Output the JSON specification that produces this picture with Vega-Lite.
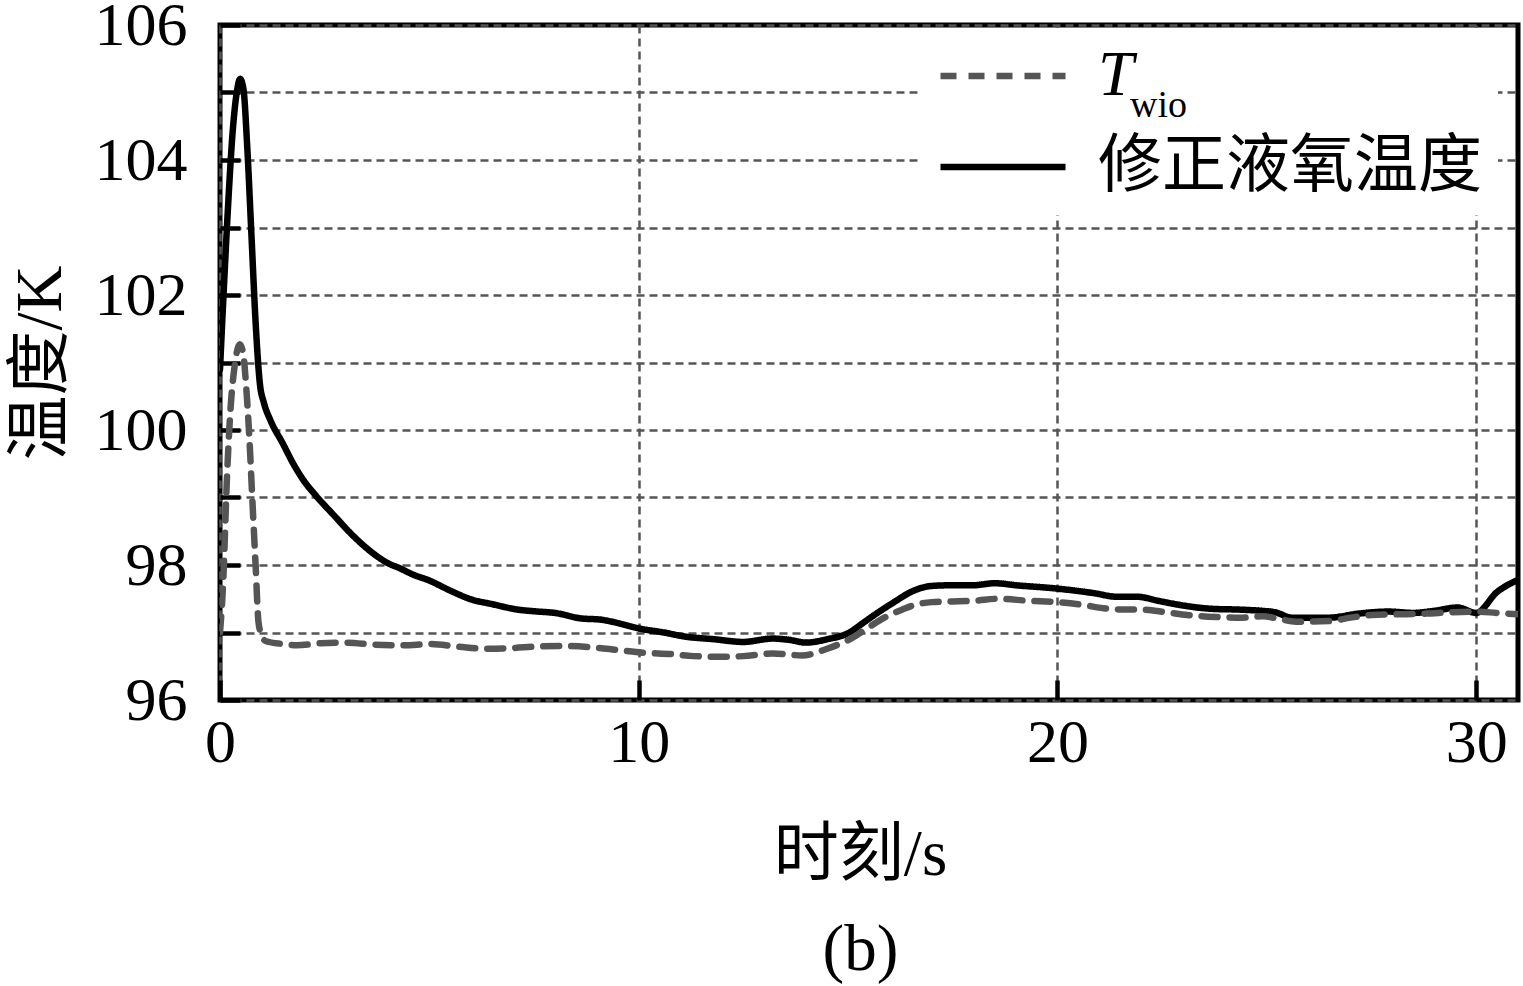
{
  "$schema": "https://vega.github.io/schema/vega-lite/v6.json",
  "autosize": "none",
  "width": 1298,
  "height": 675,
  "padding": {"left": 220, "top": 25, "right": 5, "bottom": 286},
  "background": "white",
  "title": {
    "text": "wio",
    "orient": "top",
    "anchor": "start",
    "frame": "group",
    "font": "Liberation Serif",
    "fontSize": 38,
    "fontWeight": "normal",
    "color": "black",
    "baseline": "alphabetic",
    "offset": 0,
    "dx": 910,
    "dy": 161
  },
  "data": {
    "values": [
      {"t": 0, "s": "修正液氧温度", "v": 100.9},
      {"t": 0.1, "s": "修正液氧温度", "v": 102.2},
      {"t": 0.2, "s": "修正液氧温度", "v": 103.4},
      {"t": 0.3, "s": "修正液氧温度", "v": 104.4},
      {"t": 0.4, "s": "修正液氧温度", "v": 105.0},
      {"t": 0.48, "s": "修正液氧温度", "v": 105.2},
      {"t": 0.56, "s": "修正液氧温度", "v": 105.05},
      {"t": 0.65, "s": "修正液氧温度", "v": 104.2},
      {"t": 0.75, "s": "修正液氧温度", "v": 102.9},
      {"t": 0.85, "s": "修正液氧温度", "v": 101.6},
      {"t": 0.95, "s": "修正液氧温度", "v": 100.7},
      {"t": 1.05, "s": "修正液氧温度", "v": 100.4},
      {"t": 1.2, "s": "修正液氧温度", "v": 100.15},
      {"t": 1.5, "s": "修正液氧温度", "v": 99.8},
      {"t": 1.75, "s": "修正液氧温度", "v": 99.5},
      {"t": 2.0, "s": "修正液氧温度", "v": 99.25},
      {"t": 2.3, "s": "修正液氧温度", "v": 99.02},
      {"t": 2.7, "s": "修正液氧温度", "v": 98.75},
      {"t": 3.2, "s": "修正液氧温度", "v": 98.42},
      {"t": 3.6, "s": "修正液氧温度", "v": 98.2},
      {"t": 4.0, "s": "修正液氧温度", "v": 98.03},
      {"t": 4.3, "s": "修正液氧温度", "v": 97.95},
      {"t": 4.6, "s": "修正液氧温度", "v": 97.86},
      {"t": 5.0, "s": "修正液氧温度", "v": 97.77},
      {"t": 5.5, "s": "修正液氧温度", "v": 97.62},
      {"t": 6.0, "s": "修正液氧温度", "v": 97.49},
      {"t": 6.5, "s": "修正液氧温度", "v": 97.42},
      {"t": 7.1, "s": "修正液氧温度", "v": 97.34},
      {"t": 7.6, "s": "修正液氧温度", "v": 97.31},
      {"t": 8.0, "s": "修正液氧温度", "v": 97.29},
      {"t": 8.6, "s": "修正液氧温度", "v": 97.21},
      {"t": 9.1, "s": "修正液氧温度", "v": 97.19},
      {"t": 9.5, "s": "修正液氧温度", "v": 97.14},
      {"t": 10.0, "s": "修正液氧温度", "v": 97.06},
      {"t": 10.6, "s": "修正液氧温度", "v": 97.0},
      {"t": 11.1, "s": "修正液氧温度", "v": 96.94},
      {"t": 11.8, "s": "修正液氧温度", "v": 96.9},
      {"t": 12.5, "s": "修正液氧温度", "v": 96.86},
      {"t": 13.2, "s": "修正液氧温度", "v": 96.91},
      {"t": 13.6, "s": "修正液氧温度", "v": 96.89},
      {"t": 14.0, "s": "修正液氧温度", "v": 96.85},
      {"t": 14.5, "s": "修正液氧温度", "v": 96.9},
      {"t": 15.0, "s": "修正液氧温度", "v": 96.99},
      {"t": 15.4, "s": "修正液氧温度", "v": 97.16},
      {"t": 15.7, "s": "修正液氧温度", "v": 97.29},
      {"t": 16.1, "s": "修正液氧温度", "v": 97.45},
      {"t": 16.5, "s": "修正液氧温度", "v": 97.6},
      {"t": 17.0, "s": "修正液氧温度", "v": 97.69},
      {"t": 17.5, "s": "修正液氧温度", "v": 97.7},
      {"t": 18.0, "s": "修正液氧温度", "v": 97.7},
      {"t": 18.5, "s": "修正液氧温度", "v": 97.73},
      {"t": 19.0, "s": "修正液氧温度", "v": 97.7},
      {"t": 20.0, "s": "修正液氧温度", "v": 97.65},
      {"t": 20.9, "s": "修正液氧温度", "v": 97.58},
      {"t": 21.4, "s": "修正液氧温度", "v": 97.53},
      {"t": 21.9, "s": "修正液氧温度", "v": 97.53},
      {"t": 22.4, "s": "修正液氧温度", "v": 97.47},
      {"t": 22.9, "s": "修正液氧温度", "v": 97.41},
      {"t": 23.7, "s": "修正液氧温度", "v": 97.35},
      {"t": 24.3, "s": "修正液氧温度", "v": 97.34},
      {"t": 24.9, "s": "修正液氧温度", "v": 97.32},
      {"t": 25.2, "s": "修正液氧温度", "v": 97.3},
      {"t": 25.6, "s": "修正液氧温度", "v": 97.22},
      {"t": 26.5, "s": "修正液氧温度", "v": 97.22},
      {"t": 27.2, "s": "修正液氧温度", "v": 97.28},
      {"t": 27.9, "s": "修正液氧温度", "v": 97.31},
      {"t": 28.5, "s": "修正液氧温度", "v": 97.29},
      {"t": 29.0, "s": "修正液氧温度", "v": 97.32},
      {"t": 29.56, "s": "修正液氧温度", "v": 97.37},
      {"t": 30.0, "s": "修正液氧温度", "v": 97.29},
      {"t": 30.5, "s": "修正液氧温度", "v": 97.6},
      {"t": 31.0, "s": "修正液氧温度", "v": 97.78},
      {"t": 0, "s": "Twio", "v": 97.0},
      {"t": 0.08, "s": "Twio", "v": 97.8},
      {"t": 0.16, "s": "Twio", "v": 99.2},
      {"t": 0.25, "s": "Twio", "v": 100.3},
      {"t": 0.35, "s": "Twio", "v": 100.95},
      {"t": 0.47, "s": "Twio", "v": 101.27},
      {"t": 0.55, "s": "Twio", "v": 101.15},
      {"t": 0.63, "s": "Twio", "v": 100.6},
      {"t": 0.7, "s": "Twio", "v": 99.9},
      {"t": 0.77, "s": "Twio", "v": 99.0},
      {"t": 0.85, "s": "Twio", "v": 98.0},
      {"t": 0.92, "s": "Twio", "v": 97.15},
      {"t": 1.0, "s": "Twio", "v": 96.95},
      {"t": 1.1, "s": "Twio", "v": 96.87},
      {"t": 1.5, "s": "Twio", "v": 96.83},
      {"t": 1.83, "s": "Twio", "v": 96.81},
      {"t": 2.4, "s": "Twio", "v": 96.84},
      {"t": 3.0, "s": "Twio", "v": 96.85},
      {"t": 3.7, "s": "Twio", "v": 96.82},
      {"t": 4.4, "s": "Twio", "v": 96.81},
      {"t": 5.0, "s": "Twio", "v": 96.83},
      {"t": 5.7, "s": "Twio", "v": 96.79},
      {"t": 6.3, "s": "Twio", "v": 96.76},
      {"t": 7.0, "s": "Twio", "v": 96.77},
      {"t": 7.5, "s": "Twio", "v": 96.79},
      {"t": 8.2, "s": "Twio", "v": 96.8},
      {"t": 8.9, "s": "Twio", "v": 96.78},
      {"t": 9.5, "s": "Twio", "v": 96.74},
      {"t": 10.1, "s": "Twio", "v": 96.7},
      {"t": 10.8, "s": "Twio", "v": 96.68},
      {"t": 11.3, "s": "Twio", "v": 96.65},
      {"t": 12.0, "s": "Twio", "v": 96.64},
      {"t": 12.5, "s": "Twio", "v": 96.65},
      {"t": 13.2, "s": "Twio", "v": 96.69},
      {"t": 13.9, "s": "Twio", "v": 96.66},
      {"t": 14.5, "s": "Twio", "v": 96.76},
      {"t": 15.1, "s": "Twio", "v": 96.92},
      {"t": 15.5, "s": "Twio", "v": 97.08},
      {"t": 15.9, "s": "Twio", "v": 97.23},
      {"t": 16.3, "s": "Twio", "v": 97.34},
      {"t": 16.6, "s": "Twio", "v": 97.41},
      {"t": 17.0, "s": "Twio", "v": 97.45},
      {"t": 17.5, "s": "Twio", "v": 97.46},
      {"t": 18.0, "s": "Twio", "v": 97.47},
      {"t": 18.6, "s": "Twio", "v": 97.5},
      {"t": 19.3, "s": "Twio", "v": 97.47},
      {"t": 20.0, "s": "Twio", "v": 97.45},
      {"t": 20.6, "s": "Twio", "v": 97.41},
      {"t": 21.1, "s": "Twio", "v": 97.36},
      {"t": 21.6, "s": "Twio", "v": 97.34},
      {"t": 22.0, "s": "Twio", "v": 97.34},
      {"t": 22.6, "s": "Twio", "v": 97.3},
      {"t": 23.1, "s": "Twio", "v": 97.26},
      {"t": 23.8, "s": "Twio", "v": 97.23},
      {"t": 24.4, "s": "Twio", "v": 97.22},
      {"t": 24.9, "s": "Twio", "v": 97.24},
      {"t": 25.3, "s": "Twio", "v": 97.2},
      {"t": 25.7, "s": "Twio", "v": 97.16},
      {"t": 26.5, "s": "Twio", "v": 97.17},
      {"t": 27.0, "s": "Twio", "v": 97.22},
      {"t": 27.5, "s": "Twio", "v": 97.26},
      {"t": 28.2, "s": "Twio", "v": 97.27},
      {"t": 28.8, "s": "Twio", "v": 97.28},
      {"t": 29.4, "s": "Twio", "v": 97.3},
      {"t": 30.0, "s": "Twio", "v": 97.31},
      {"t": 30.5, "s": "Twio", "v": 97.29},
      {"t": 31.0, "s": "Twio", "v": 97.27}
    ]
  },
  "mark": {"type": "line", "strokeWidth": 6.5, "strokeCap": "round", "interpolate": "monotone", "clip": true},
  "encoding": {
    "x": {
      "field": "t",
      "type": "quantitative",
      "scale": {"domain": [0, 31], "nice": false, "zero": false},
      "axis": {
        "values": [0, 10, 20, 30],
        "title": ["时刻/s", "(b)"],
        "titleLineHeight": 95,
        "titleBaseline": "top",
        "titleAlign": "center",
        "titleX": 640,
        "titlePadding": 50
      }
    },
    "y": {
      "field": "v",
      "type": "quantitative",
      "scale": {"domain": [96, 106], "nice": false, "zero": false},
      "axis": {
        "values": [96, 97, 98, 99, 100, 101, 102, 103, 104, 105, 106],
        "labelExpr": "datum.value % 2 == 0 ? datum.label : ''",
        "title": "温度/K",
        "titlePadding": 20
      }
    },
    "color": {
      "field": "s",
      "type": "nominal",
      "scale": {"domain": ["Twio", "修正液氧温度"], "range": ["#555555", "#000000"]},
      "legend": {
        "title": null,
        "orient": "none",
        "legendX": 701,
        "legendY": 3,
        "padding": 16,
        "fillColor": "white",
        "strokeColor": null,
        "symbolType": "stroke",
        "symbolSize": 15625,
        "symbolStrokeWidth": 6.5,
        "clipHeight": 64,
        "rowPadding": 27,
        "labelOffset": 29,
        "labelLimit": 600,
        "labelFont": "Liberation Serif, Noto Sans CJK SC",
        "labelColor": "black",
        "labelBaseline": "middle",
        "labelExpr": "datum.value == 'Twio' ? 'T' : datum.label",
        "labelFontStyle": {"expr": "datum.value == 'Twio' ? 'italic' : 'normal'"},
        "labelFontSize": 64
      }
    },
    "strokeDash": {
      "field": "s",
      "type": "nominal",
      "scale": {"domain": ["Twio", "修正液氧温度"], "range": [[16, 12], [1, 0]]},
      "legend": null
    }
  },
  "config": {
    "font": "Liberation Serif, Noto Sans CJK SC",
    "view": {"stroke": "black", "strokeWidth": 5},
    "axis": {
      "domain": false,
      "grid": true,
      "gridColor": "#555555",
      "gridDash": [8, 5],
      "gridWidth": 2.5,
      "gridOpacity": 1,
      "ticks": true,
      "tickSize": -20,
      "tickWidth": 4.5,
      "tickColor": "black",
      "labelFont": "Liberation Serif",
      "labelFontSize": 62,
      "labelColor": "black",
      "titleFont": "Liberation Serif, Noto Sans CJK SC",
      "titleFontSize": 65,
      "titleFontWeight": "normal",
      "titleColor": "black"
    },
    "axisX": {"labelPadding": 32, "labelFlush": false},
    "axisY": {"labelPadding": 53}
  }
}
